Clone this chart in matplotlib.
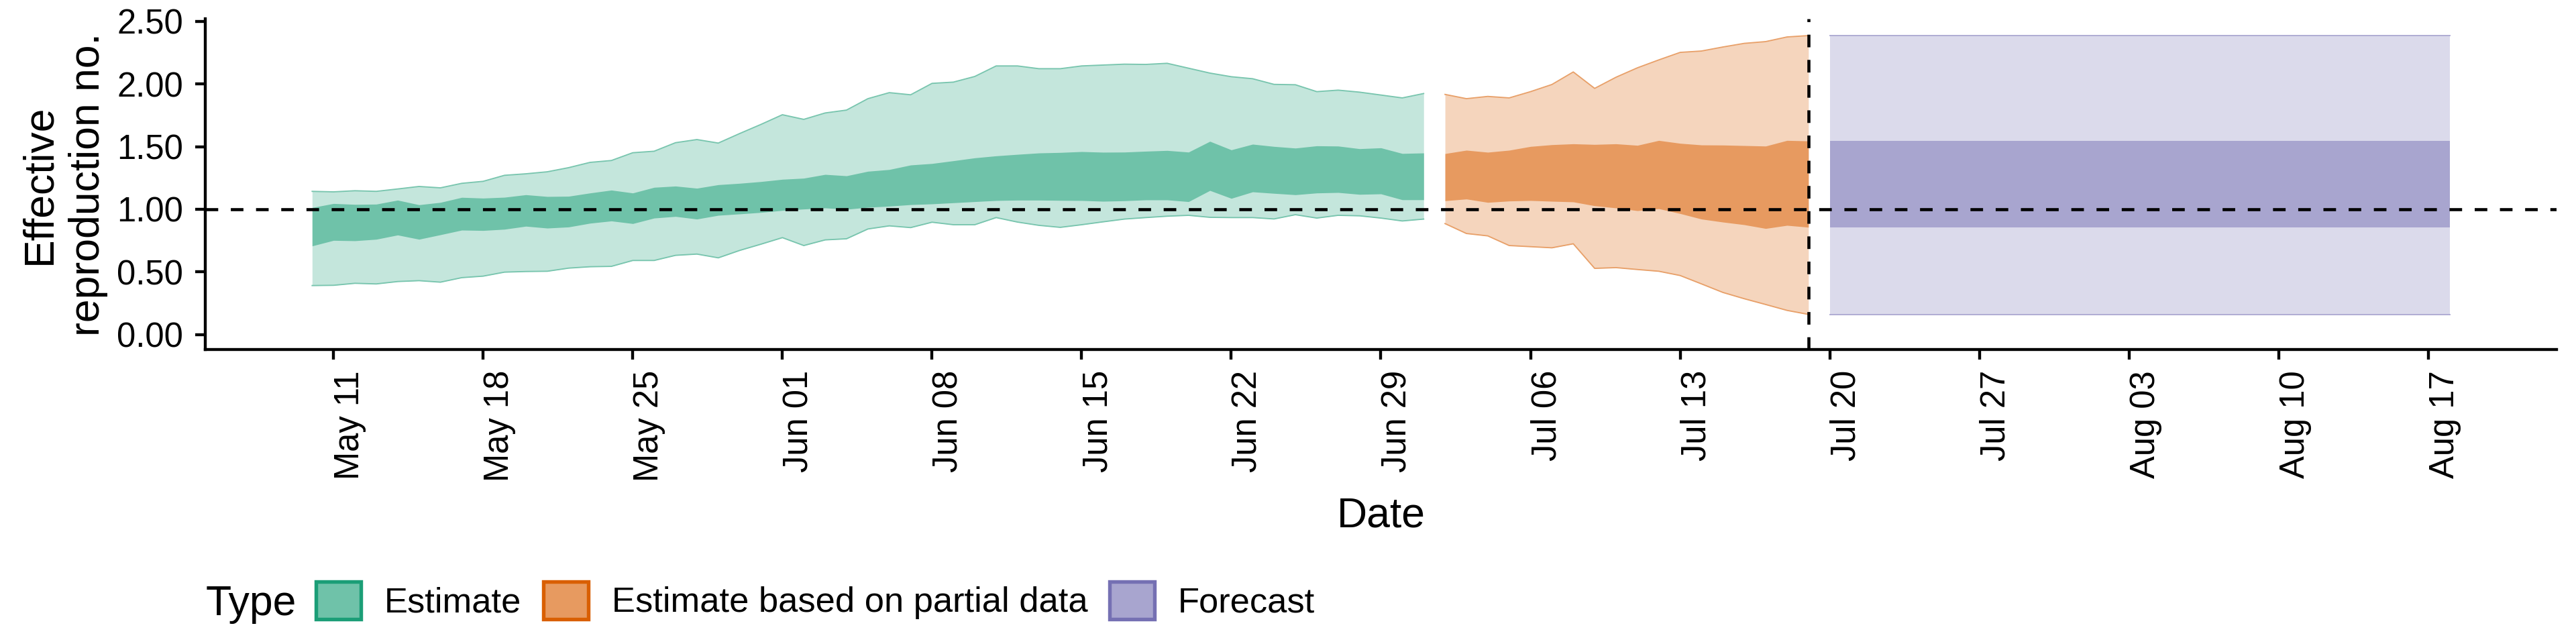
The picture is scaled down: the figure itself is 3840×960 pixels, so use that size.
import numpy as np
import pandas as pd
import matplotlib
matplotlib.use("Agg")
import matplotlib.pyplot as plt
from matplotlib.patches import Patch

plt.rcParams['font.family'] = ['Liberation Sans', 'DejaVu Sans']

# ---------------- data ----------------
estimate_dates = pd.date_range("2020-05-10", "2020-07-01", freq="D")
estimate_upper90 = [1.143, 1.139, 1.148, 1.143, 1.162, 1.182, 1.171, 1.207, 1.223, 1.271,
                    1.283, 1.299, 1.332, 1.374, 1.389, 1.451, 1.463, 1.531, 1.556, 1.528,
                    1.604, 1.677, 1.754, 1.717, 1.768, 1.791, 1.882, 1.930, 1.913, 2.004,
                    2.014, 2.059, 2.143, 2.143, 2.121, 2.121, 2.143, 2.150, 2.157, 2.155,
                    2.164, 2.125, 2.086, 2.057, 2.041, 1.996, 1.993, 1.938, 1.950, 1.934,
                    1.911, 1.888, 1.923]
estimate_upper50 = [1.014, 1.046, 1.039, 1.041, 1.073, 1.036, 1.055, 1.095, 1.089, 1.096,
                    1.116, 1.102, 1.104, 1.130, 1.153, 1.130, 1.175, 1.185, 1.168, 1.196,
                    1.207, 1.221, 1.239, 1.248, 1.278, 1.267, 1.303, 1.317, 1.353, 1.365,
                    1.387, 1.410, 1.426, 1.438, 1.449, 1.453, 1.460, 1.455, 1.456, 1.463,
                    1.469, 1.456, 1.542, 1.474, 1.519, 1.501, 1.488, 1.506, 1.504, 1.483,
                    1.490, 1.445, 1.449]
estimate_lower50 = [0.708, 0.752, 0.749, 0.761, 0.795, 0.761, 0.797, 0.834, 0.831, 0.841,
                    0.865, 0.850, 0.859, 0.889, 0.907, 0.886, 0.930, 0.943, 0.922, 0.952,
                    0.963, 0.975, 0.991, 1.002, 1.011, 1.000, 1.016, 1.025, 1.037, 1.043,
                    1.052, 1.061, 1.070, 1.073, 1.073, 1.071, 1.070, 1.064, 1.068, 1.075,
                    1.075, 1.061, 1.150, 1.087, 1.139, 1.127, 1.116, 1.130, 1.134, 1.119,
                    1.123, 1.076, 1.076]
estimate_lower90 = [0.392, 0.394, 0.410, 0.405, 0.424, 0.431, 0.419, 0.455, 0.467, 0.499,
                    0.504, 0.506, 0.531, 0.542, 0.545, 0.592, 0.592, 0.633, 0.643, 0.613,
                    0.672, 0.722, 0.774, 0.711, 0.756, 0.765, 0.843, 0.868, 0.854, 0.897,
                    0.877, 0.877, 0.934, 0.898, 0.872, 0.856, 0.877, 0.900, 0.922, 0.934,
                    0.945, 0.952, 0.936, 0.934, 0.934, 0.923, 0.957, 0.930, 0.952, 0.948,
                    0.930, 0.907, 0.922]

partial_dates = pd.date_range("2020-07-02", "2020-07-19", freq="D")
partial_upper90 = [1.916, 1.882, 1.900, 1.888, 1.938, 1.995, 2.095, 1.964, 2.053, 2.128,
                   2.191, 2.251, 2.262, 2.294, 2.323, 2.337, 2.374, 2.385]
partial_upper50 = [1.444, 1.471, 1.455, 1.471, 1.501, 1.515, 1.522, 1.517, 1.522, 1.510,
                   1.549, 1.526, 1.513, 1.512, 1.508, 1.504, 1.549, 1.545]
partial_lower50 = [1.068, 1.082, 1.055, 1.066, 1.070, 1.064, 1.059, 1.028, 1.011, 0.989,
                   1.005, 0.966, 0.922, 0.898, 0.877, 0.847, 0.872, 0.857]
partial_lower90 = [0.886, 0.807, 0.788, 0.711, 0.702, 0.693, 0.725, 0.529, 0.535, 0.520,
                   0.506, 0.472, 0.405, 0.337, 0.287, 0.241, 0.194, 0.162]

forecast_dates = pd.to_datetime(["2020-07-20", "2020-08-18"])
forecast_upper90 = [2.385, 2.385]
forecast_upper50 = [1.545, 1.545]
forecast_lower50 = [0.857, 0.857]
forecast_lower90 = [0.162, 0.162]

last_data_date = pd.Timestamp("2020-07-19")
reference_r = 1.0

type_labels = ["Estimate", "Estimate based on partial data", "Forecast"]
type_colors = ["#1B9E77", "#D95F02", "#7570B3"]

tick_dates = pd.to_datetime(["2020-05-11", "2020-05-18", "2020-05-25", "2020-06-01",
                             "2020-06-08", "2020-06-15", "2020-06-22", "2020-06-29",
                             "2020-07-06", "2020-07-13", "2020-07-20", "2020-07-27",
                             "2020-08-03", "2020-08-10", "2020-08-17"])
tick_labels = ["May 11", "May 18", "May 25", "Jun 01", "Jun 08", "Jun 15", "Jun 22",
               "Jun 29", "Jul 06", "Jul 13", "Jul 20", "Jul 27", "Aug 03", "Aug 10", "Aug 17"]
y_ticks = [0.0, 0.5, 1.0, 1.5, 2.0, 2.5]
y_tick_labels = ["0.00", "0.50", "1.00", "1.50", "2.00", "2.50"]

# ---------------- style helpers ----------------
def blend(c, bg, a):
    c = np.array(matplotlib.colors.to_rgb(c))
    bg = np.array(matplotlib.colors.to_rgb(bg))
    return tuple(bg * (1 - a) + c * a)

OUTER_A = 0.26
INNER_A = 0.5

DPI = 300
fig = plt.figure(figsize=(12.8, 3.2), dpi=DPI)
L, R = 306 / 3840, 3811 / 3840
B, T = 1 - 521.4 / 960, 1 - 27.8 / 960
ax = fig.add_axes([L, B, R - L, T - B])

series = [
    (estimate_dates, estimate_lower90, estimate_lower50, estimate_upper50, estimate_upper90),
    (partial_dates, partial_lower90, partial_lower50, partial_upper50, partial_upper90),
    (forecast_dates, forecast_lower90, forecast_lower50, forecast_upper50, forecast_upper90),
]

for (dates, lo90, lo50, hi50, hi90), col in zip(series, type_colors):
    light = blend(col, "white", OUTER_A)
    dark = blend(col, light, INNER_A)
    ax.fill_between(dates, lo90, hi90, color=light, linewidth=0, zorder=1)
    ax.fill_between(dates, lo50, hi50, color=dark, linewidth=0, zorder=2)
    edge = blend(col, light, 0.45)
    ax.plot(dates, hi90, color=edge, lw=0.45, zorder=1.5)
    ax.plot(dates, lo90, color=edge, lw=0.45, zorder=1.5)

ax.axhline(reference_r, color="black", lw=1.1, ls=(0, (4.1, 4.1)), zorder=5)
ax.axvline(last_data_date, color="black", lw=1.1, ls=(0, (4.1, 4.1)), zorder=5)

ax.set_xlim(pd.Timestamp("2020-05-05"), pd.Timestamp("2020-08-23"))
ax.set_ylim(-0.12, 2.52)

ax.set_yticks(y_ticks)
ax.set_yticklabels(y_tick_labels)
ax.set_xticks(tick_dates)
ax.set_xticklabels(tick_labels)

for s in ["top", "right"]:
    ax.spines[s].set_visible(False)
for s in ["left", "bottom"]:
    ax.spines[s].set_linewidth(1.05)
    ax.spines[s].set_color("black")

ax.tick_params(axis="y", length=3.6, width=1.05, pad=4.3, labelsize=12.2, colors="black")
ax.tick_params(axis="x", length=3.6, width=1.05, pad=3.75, labelsize=12.2, colors="black",
               labelrotation=90)
for lab in ax.get_xticklabels():
    lab.set_ha("left")
    lab.set_va("top")

ax.set_xlabel("Date", fontsize=15)
ax.xaxis.set_label_coords(0.5, (521.4 - 785) / 493.6)
ax.xaxis.label.set_va("baseline")

ax.set_ylabel("Effective\nreproduction no.", fontsize=15, linespacing=1.3)
ax.yaxis.set_label_coords((95 - 306) / 3505, 0.5)
ax.yaxis.label.set_va("center")

# legend
handles = []
for col in type_colors:
    light = blend(col, "white", OUTER_A)
    dark = blend(col, light, INNER_A)
    handles.append(Patch(facecolor=dark, edgecolor=col, linewidth=1.3))

leg_y = 1 - 895 / 960
fig.text(307 / 3840, 1 - 916.7 / 960, "Type", fontsize=15, ha="left", va="baseline")
fig.legend(handles, type_labels, loc="center left", bbox_to_anchor=(471 / 3840, leg_y),
           ncol=3, frameon=False, fontsize=12.6, handlelength=1.276, handleheight=1.276,
           handletextpad=0.66, columnspacing=0.63, borderpad=0, borderaxespad=0)

fig.savefig("out.png", dpi=DPI)
